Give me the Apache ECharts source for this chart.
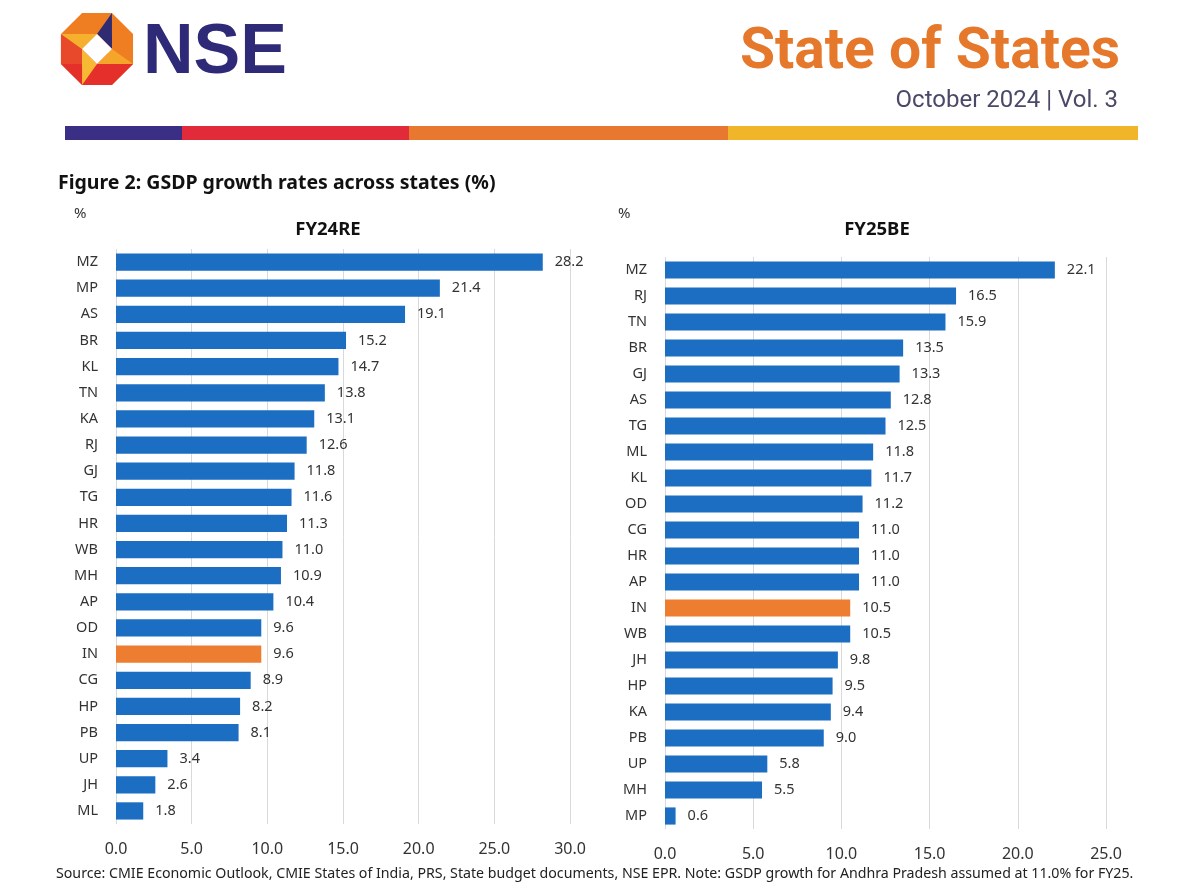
<!DOCTYPE html>
<html><head><meta charset="utf-8">
<script src="https://cdn.jsdelivr.net/npm/echarts@6/dist/echarts.min.js"></script>
<style>html,body{margin:0;padding:0;background:#fff}#c{width:1200px;height:888px}</style>
</head><body><div id="c"></div>
<script>
const statesFY24 = ['MZ','MP','AS','BR','KL','TN','KA','RJ','GJ','TG','HR','WB','MH','AP','OD','IN','CG','HP','PB','UP','JH','ML'];
const valuesFY24 = [28.2,21.4,19.1,15.2,14.7,13.8,13.1,12.6,11.8,11.6,11.3,11.0,10.9,10.4,9.6,9.6,8.9,8.2,8.1,3.4,2.6,1.8];
const statesFY25 = ['MZ','RJ','TN','BR','GJ','AS','TG','ML','KL','OD','CG','HR','AP','IN','WB','JH','HP','KA','PB','UP','MH','MP'];
const valuesFY25 = [22.1,16.5,15.9,13.5,13.3,12.8,12.5,11.8,11.7,11.2,11.0,11.0,11.0,10.5,10.5,9.8,9.5,9.4,9.0,5.8,5.5,0.6];
const ticksFY24 = [0,5,10,15,20,25,30];
const ticksFY25 = [0,5,10,15,20,25];

const FONT = '"Noto Sans", "Open Sans", sans-serif';
const BLUE = '#1b6ec2', ORANGE = '#ed7d31';

function barData(states, vals){
  return vals.map((v,i)=>({value:v, itemStyle:{color: states[i]==='IN'?ORANGE:BLUE}}));
}
function xAxis(gi, ticks){
  return {type:'value', gridIndex:gi, min:ticks[0], max:ticks[ticks.length-1], interval:5,
    axisLine:{show:false}, axisTick:{show:false},
    splitLine:{show:true, lineStyle:{color:'#d9d9d9', width:1}},
    axisLabel:{margin:17, fontSize:16, color:'#333', fontFamily:FONT, formatter:v=>v.toFixed(1)}};
}
function yAxis(gi, cats){
  return {type:'category', gridIndex:gi, data:cats, inverse:true,
    axisLine:{show:false}, axisTick:{show:false},
    axisLabel:{margin:18, fontSize:14.5, color:'#333', fontFamily:FONT}};
}
function series(gi, states, vals){
  return {type:'bar', xAxisIndex:gi, yAxisIndex:gi, data:barData(states, vals), barCategoryGap:'34%',
    label:{show:true, position:'right', distance:12, fontSize:14.5, color:'#333', fontFamily:FONT, formatter:p=>p.value.toFixed(1)}};
}

// logo geometry
const cx=97, cy=49, R=39;
function oct(k){const a=(-112.5+45*k)*Math.PI/180;return [cx+R*Math.cos(a), cy+R*Math.sin(a)];}
const octPts=[0,1,2,3,4,5,6,7].map(oct);
const d=15;
const logo=[
  {type:'polygon', shape:{points:octPts}, style:{fill:'#ef7d22'}},
  {type:'polygon', shape:{points:[oct(3),oct(4),oct(5),oct(6),[cx,cy]]}, style:{fill:'#e42f2b'}},
  {type:'polygon', shape:{points:[oct(6),oct(7),[cx-d,cy],[cx,cy+d]]}, style:{fill:'#e8492a'}},
  {type:'polygon', shape:{points:[oct(7),[cx,cy-d],[cx-d,cy]]}, style:{fill:'#f5b12e'}},
  {type:'polygon', shape:{points:[oct(1),[cx+d,cy],[cx,cy-d]]}, style:{fill:'#2f2b73'}},
  {type:'polygon', shape:{points:[oct(3),[cx,cy+d],[cx+d,cy]]}, style:{fill:'#f5a52a'}},
  {type:'polygon', shape:{points:[oct(5),[cx-d,cy],[cx,cy+d]]}, style:{fill:'#f7b933'}},
  {type:'polygon', shape:{points:[[cx,cy-d],[cx+d,cy],[cx,cy+d],[cx-d,cy]]}, style:{fill:'#ffffff'}}
];

const chart = echarts.init(document.getElementById('c'));
chart.setOption({
  animation:false,
  backgroundColor:'#fff',
  graphic:[
    ...logo,
    {type:'text', left:143, top:19, style:{text:'NSE', font:'bold 70px "Liberation Sans", Arial, sans-serif', fill:'#2e2a78'}},
    {type:'text', right:80, top:25, style:{text:'State of States', font:'bold 57px Roboto, "Noto Sans", sans-serif', fill:'#e5782b'}},
    {type:'text', right:82, top:89, style:{text:'October 2024 | Vol. 3', font:'24px Roboto, "Noto Sans", sans-serif', fill:'#4a4a68'}},
    {type:'rect', shape:{x:65, y:126, width:117, height:14}, style:{fill:'#3a2f85'}},
    {type:'rect', shape:{x:182, y:126, width:227, height:14}, style:{fill:'#e12b3b'}},
    {type:'rect', shape:{x:409, y:126, width:319, height:14}, style:{fill:'#e8782f'}},
    {type:'rect', shape:{x:728, y:126, width:410, height:14}, style:{fill:'#f0b529'}},
    {type:'text', left:58, top:173, style:{text:'Figure 2: GSDP growth rates across states (%)', font:'bold 19.5px '+FONT, fill:'#111'}},
    {type:'text', left:74, top:206, style:{text:'%', font:'15px '+FONT, fill:'#333'}},
    {type:'text', left:618, top:206, style:{text:'%', font:'15px '+FONT, fill:'#333'}},
    {type:'text', left:56, top:867, style:{text:'Source: CMIE Economic Outlook, CMIE States of India, PRS, State budget documents, NSE EPR. Note: GSDP growth for Andhra Pradesh assumed at 11.0% for FY25.', font:'14.2px '+FONT, fill:'#222'}}
  ],
  title:[
    {text:'FY24RE', left:323, top:215, textAlign:'center', textStyle:{fontSize:18.5, fontWeight:'bold', color:'#111', fontFamily:FONT}},
    {text:'FY25BE', left:872, top:215, textAlign:'center', textStyle:{fontSize:18.5, fontWeight:'bold', color:'#111', fontFamily:FONT}}
  ],
  grid:[
    {left:116, top:249, width:454, height:575},
    {left:665, top:257, width:441, height:572}
  ],
  xAxis:[xAxis(0, ticksFY24), xAxis(1, ticksFY25)],
  yAxis:[yAxis(0, statesFY24), yAxis(1, statesFY25)],
  series:[series(0, statesFY24, valuesFY24), series(1, statesFY25, valuesFY25)]
});
</script></body></html>
